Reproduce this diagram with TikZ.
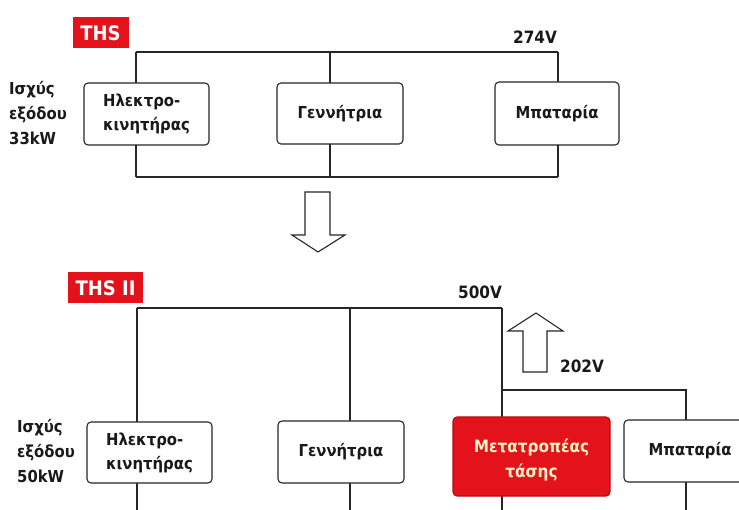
\documentclass[tikz,border=0pt]{standalone}
\usepackage{fontspec}
\setmainfont{DejaVu Sans Condensed}
\definecolor{thsred}{HTML}{E3121B}
\definecolor{convtext}{HTML}{FFF3C8}
\tikzset{
  wire/.style={line width=1.1pt, draw=black!85},
  boxnode/.style={draw=black!85, line width=1.1pt, rounded corners=4pt, fill=white, inner sep=0pt, align=center, font=\bfseries\fontsize{16.5}{24}\selectfont, text=black!90},
  redlabel/.style={fill=thsred, text=white, inner sep=0pt, font=\bfseries\fontsize{20}{20}\selectfont},
  volt/.style={font=\bfseries\fontsize{17}{17}\selectfont, text=black!90, inner sep=0pt},
  side/.style={font=\bfseries\fontsize{16.5}{25}\selectfont, text=black!90, align=left, inner sep=0pt},
  bigarrow/.style={draw=black!85, line width=1.1pt, fill=white, line join=miter}
}
\begin{document}
\begin{tikzpicture}[x=1pt,y=-1pt]
\useasboundingbox (0,0) rectangle (739,510);
\clip (0,0) rectangle (739,510);

% ---------- THS (top) ----------
\node[redlabel, minimum width=56, minimum height=31] (ths) at (100.5,33) {THS};
\node[volt] (v274) at (535,37) {274V};
\node[side, anchor=west] (p1) at (9,113) {Ισχύς\\εξόδου\\33kW};

\coordinate (t1) at (136,52);
\coordinate (t2) at (330,52);
\coordinate (t3) at (558,52);
\coordinate (u1) at (136,177);
\coordinate (u2) at (330,177);
\coordinate (u3) at (558,177);
\draw[wire] (t1) -- (t3);
\draw[wire] (u1) -- (u3);
\draw[wire] (t1) -- (u1);
\draw[wire] (t2) -- (u2);
\draw[wire] (t3) -- (u3);

\node[boxnode, minimum width=125, minimum height=62, align=left] (m1) at (146.5,114) {Ηλεκτρο-\\κινητήρας};
\node[boxnode, minimum width=126, minimum height=61] (g1) at (340,113.5) {Γεννήτρια};
\node[boxnode, minimum width=124, minimum height=63] (b1) at (557,113.5) {Μπαταρία};

% ---------- down arrow ----------
\node[inner sep=0pt] (darrow) at (318,222) {};
\draw[bigarrow] (305,192) -- (330,192) -- (330,235) -- (345,235) -- (318,252) -- (292,235) -- (305,235) -- cycle;

% ---------- THS II (bottom) ----------
\node[redlabel, minimum width=75, minimum height=31] (ths2) at (105.5,288) {THS II};
\node[volt] (v500) at (480,292) {500V};
\node[volt] (v202) at (582,366) {202V};
\node[side, anchor=west] (p2) at (17,451) {Ισχύς\\εξόδου\\50kW};

\coordinate (s1) at (137,308);
\coordinate (s2) at (350,308);
\coordinate (s3) at (502,308);
\coordinate (j3) at (502,390);
\coordinate (j4) at (686,390);
\coordinate (e1) at (137,512);
\coordinate (e2) at (350,512);
\coordinate (e3) at (502,512);
\coordinate (e4) at (686,512);
\draw[wire] (s1) -- (s3);
\draw[wire] (s1) -- (e1);
\draw[wire] (s2) -- (e2);
\draw[wire] (s3) -- (e3);
\draw[wire] (j3) -- (j4) -- (e4);

\node[boxnode, minimum width=125, minimum height=61, align=left] (m2) at (149.5,452.5) {Ηλεκτρο-\\κινητήρας};
\node[boxnode, minimum width=126, minimum height=62] (g2) at (341,452) {Γεννήτρια};
\node[boxnode, draw=thsred!80!black, fill=thsred, minimum width=157, minimum height=79] (conv) at (531.5,456.5) {};
\node[inner sep=0pt, align=center, text=convtext, font=\bfseries\fontsize{17}{25}\selectfont] (convtxt) at ([yshift=-3]conv.center) {Μετατροπέας\\τάσης};
\node[boxnode, minimum width=132, minimum height=62] (b2) at (690,451) {Μπαταρία};

% ---------- up arrow ----------
\node[inner sep=0pt] (uarrow) at (536,340) {};
\draw[bigarrow] (523,372) -- (547,372) -- (547,331) -- (563,331) -- (536,313) -- (508,331) -- (523,331) -- cycle;
\end{tikzpicture}
\end{document}
